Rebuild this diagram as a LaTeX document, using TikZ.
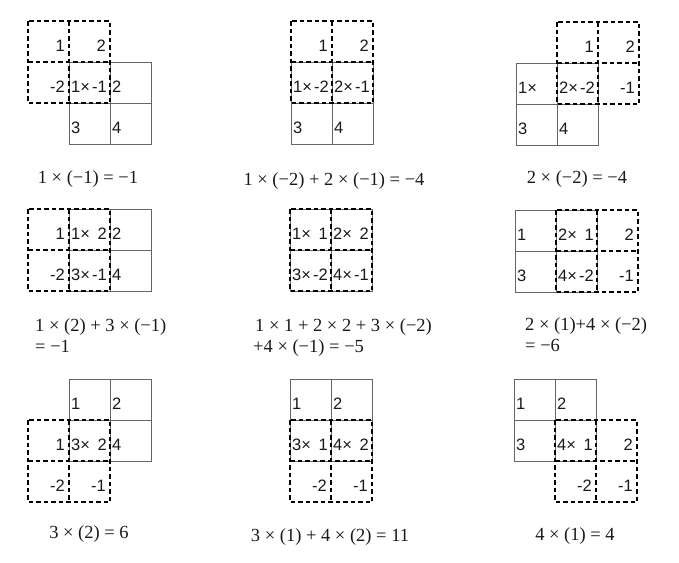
\documentclass[tikz,border=0pt]{standalone}
\usepackage{fontspec}
\setmainfont{Liberation Serif}
\setsansfont{Liberation Sans}
\usetikzlibrary{positioning}

\begin{document}
\begin{tikzpicture}[
        x=1pt, y=-1pt,
        cellline/.style={draw=black!60, line width=0.9pt},
        kernline/.style={draw=black, line width=1.2pt, dash pattern=on 4.5pt off 3pt},
        num/.style={font=\sffamily\fontsize{16.5}{19}\selectfont, text=black!90, inner sep=0pt, anchor=base west},
        knum/.style={num, anchor=base east},
        eqn/.style={font=\fontsize{18.5}{22}\selectfont, text=black!90, inner sep=0pt, anchor=base},
        eqnl/.style={eqn, anchor=base west}
    ]

    \fill[white] (0,0) rectangle (679,562);
    \useasboundingbox (0,0) rectangle (679,562);

    % input grids
    \draw[cellline] (69,62) rectangle ++(82,82) (110,62) -- ++(0,82) (69,103) -- ++(82,0);
    \draw[cellline] (291,62) rectangle ++(82,82) (332,62) -- ++(0,82) (291,103) -- ++(82,0);
    \draw[cellline] (516,63) rectangle ++(82,82) (557,63) -- ++(0,82) (516,104) -- ++(82,0);
    \draw[cellline] (69,209) rectangle ++(82,82) (110,209) -- ++(0,82) (69,250) -- ++(82,0);
    \draw[cellline] (290,209) rectangle ++(82,82) (331,209) -- ++(0,82) (290,250) -- ++(82,0);
    \draw[cellline] (515,210) rectangle ++(82,82) (556,210) -- ++(0,82) (515,251) -- ++(82,0);
    \draw[cellline] (69,379) rectangle ++(82,82) (110,379) -- ++(0,82) (69,420) -- ++(82,0);
    \draw[cellline] (290,379) rectangle ++(82,82) (331,379) -- ++(0,82) (290,420) -- ++(82,0);
    \draw[cellline] (514,379) rectangle ++(82,82) (555,379) -- ++(0,82) (514,420) -- ++(82,0);

    % kernels
    \draw[kernline] (28,21) rectangle ++(82,82) (69,21) -- ++(0,82) (28,62) -- ++(82,0);
    \draw[kernline] (291,21) rectangle ++(82,82) (332,21) -- ++(0,82) (291,62) -- ++(82,0);
    \draw[kernline] (557,22) rectangle ++(82,82) (598,22) -- ++(0,82) (557,63) -- ++(82,0);
    \draw[kernline] (28,209) rectangle ++(82,82) (69,209) -- ++(0,82) (28,250) -- ++(82,0);
    \draw[kernline] (290,209) rectangle ++(82,82) (331,209) -- ++(0,82) (290,250) -- ++(82,0);
    \draw[kernline] (556,210) rectangle ++(82,82) (597,210) -- ++(0,82) (556,251) -- ++(82,0);
    \draw[kernline] (28,420) rectangle ++(82,82) (69,420) -- ++(0,82) (28,461) -- ++(82,0);
    \draw[kernline] (290,420) rectangle ++(82,82) (331,420) -- ++(0,82) (290,461) -- ++(82,0);
    \draw[kernline] (555,420) rectangle ++(82,82) (596,420) -- ++(0,82) (555,461) -- ++(82,0);

    % panel 1
    \node[num] (p1s1) at (71,92) {1×};
    \node[num] (p1s2) at (112,92) {2};
    \node[num] (p1s3) at (71,133) {3};
    \node[num] (p1s4) at (112,133) {4};
    \node[knum] (p1k1) at (65,51) {1};
    \node[knum] (p1k2) at (106,51) {2};
    \node[knum] (p1k3) at (65,92) {-2};
    \node[knum] (p1k4) at (107,92) {-1};
    \node[eqn] (p1eq) at (88,183) {1 × (−1) = −1};

    % panel 2
    \node[num] (p2s1) at (293,92) {1×};
    \node[num] (p2s2) at (334,92) {2×};
    \node[num] (p2s3) at (293,133) {3};
    \node[num] (p2s4) at (334,133) {4};
    \node[knum] (p2k1) at (328,51) {1};
    \node[knum] (p2k2) at (369,51) {2};
    \node[knum] (p2k3) at (329,92) {-2};
    \node[knum] (p2k4) at (370,92) {-1};
    \node[eqn] (p2eq) at (334,185) {1 × (−2) + 2 × (−1) = −4};

    % panel 3
    \node[num] (p3s1) at (518,93) {1×};
    \node[num] (p3s2) at (559,93) {2×};
    \node[num] (p3s3) at (518,134) {3};
    \node[num] (p3s4) at (559,134) {4};
    \node[knum] (p3k1) at (594,52) {1};
    \node[knum] (p3k2) at (635,52) {2};
    \node[knum] (p3k3) at (595,93) {-2};
    \node[knum] (p3k4) at (635,93) {-1};
    \node[eqn] (p3eq) at (577,183) {2 × (−2) = −4};

    % panel 4
    \node[num] (p4s1) at (71,239) {1×};
    \node[num] (p4s2) at (112,239) {2};
    \node[num] (p4s3) at (71,280) {3×};
    \node[num] (p4s4) at (112,280) {4};
    \node[knum] (p4k1) at (65,239) {1};
    \node[knum] (p4k2) at (107,239) {2};
    \node[knum] (p4k3) at (65,280) {-2};
    \node[knum] (p4k4) at (107,280) {-1};
    \node[eqnl] (p4eqa) at (35,331) {1 × (2) + 3 × (−1)};
    \node[eqnl] (p4eqb) at (35,352) {= −1};

    % panel 5
    \node[num] (p5s1) at (292,239) {1×};
    \node[num] (p5s2) at (333,239) {2×};
    \node[num] (p5s3) at (292,280) {3×};
    \node[num] (p5s4) at (333,280) {4×};
    \node[knum] (p5k1) at (328,239) {1};
    \node[knum] (p5k2) at (369,239) {2};
    \node[knum] (p5k3) at (328,280) {-2};
    \node[knum] (p5k4) at (369,280) {-1};
    \node[eqnl] (p5eqa) at (255,331) {1 × 1 + 2 × 2 + 3 × (−2)};
    \node[eqnl] (p5eqb) at (253,352) {+4 × (−1) = −5};

    % panel 6
    \node[num] (p6s1) at (517,240) {1};
    \node[num] (p6s2) at (558,240) {2×};
    \node[num] (p6s3) at (517,281) {3};
    \node[num] (p6s4) at (558,281) {4×};
    \node[knum] (p6k1) at (594,240) {1};
    \node[knum] (p6k2) at (634,240) {2};
    \node[knum] (p6k3) at (594,281) {-2};
    \node[knum] (p6k4) at (634,281) {-1};
    \node[eqnl] (p6eqa) at (525,330) {2 × (1)+4 × (−2)};
    \node[eqnl] (p6eqb) at (525,351) {= −6};

    % panel 7
    \node[num] (p7s1) at (71,409) {1};
    \node[num] (p7s2) at (112,409) {2};
    \node[num] (p7s3) at (71,450) {3×};
    \node[num] (p7s4) at (112,450) {4};
    \node[knum] (p7k1) at (65,450) {1};
    \node[knum] (p7k2) at (107,450) {2};
    \node[knum] (p7k3) at (65,491) {-2};
    \node[knum] (p7k4) at (106,491) {-1};
    \node[eqn] (p7eq) at (89,538) {3 × (2) = 6};

    % panel 8
    \node[num] (p8s1) at (292,409) {1};
    \node[num] (p8s2) at (333,409) {2};
    \node[num] (p8s3) at (292,450) {3×};
    \node[num] (p8s4) at (333,450) {4×};
    \node[knum] (p8k1) at (328,450) {1};
    \node[knum] (p8k2) at (369,450) {2};
    \node[knum] (p8k3) at (327,491) {-2};
    \node[knum] (p8k4) at (368,491) {-1};
    \node[eqn] (p8eq) at (330,541) {3 × (1) + 4 × (2) = 11};

    % panel 9
    \node[num] (p9s1) at (516,409) {1};
    \node[num] (p9s2) at (557,409) {2};
    \node[num] (p9s3) at (516,450) {3};
    \node[num] (p9s4) at (557,450) {4×};
    \node[knum] (p9k1) at (593,450) {1};
    \node[knum] (p9k2) at (633,450) {2};
    \node[knum] (p9k3) at (592,491) {-2};
    \node[knum] (p9k4) at (633,491) {-1};
    \node[eqn] (p9eq) at (575,540) {4 × (1) = 4};

\end{tikzpicture}
\end{document}
